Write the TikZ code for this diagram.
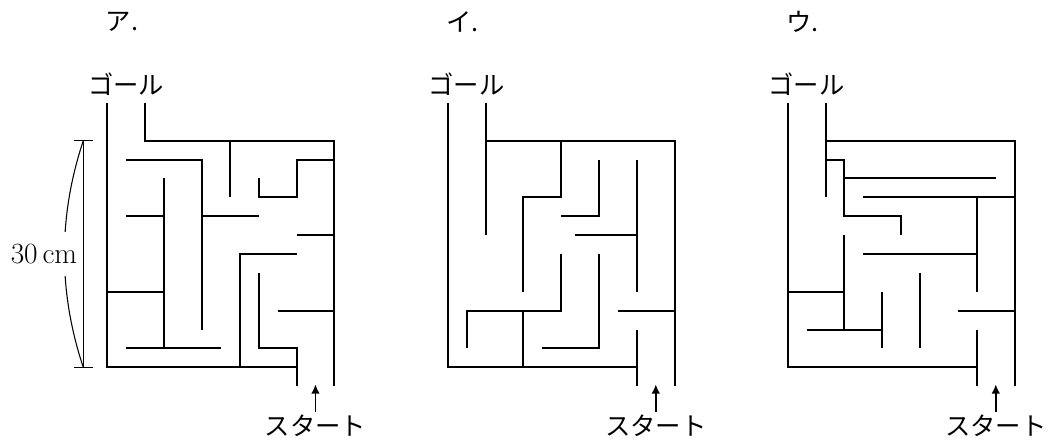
\documentclass[tikz,border=0pt]{standalone}
\usepackage{fontspec}
\newfontfamily\jpfont{Noto Sans CJK JP}
\usetikzlibrary{arrows.meta}

\begin{document}
\begin{tikzpicture}[
    x=0.75pt, y=-0.75pt,
    wall/.style={line width=1.5pt},
    dimline/.style={line width=0.8pt},
    jplabel/.style={font=\jpfont\fontsize{19}{22}\selectfont, inner sep=0pt},
    maze/.style={x=14.19pt, y=-14.17pt},
    startarrow/.style={-{Latex[length=7pt,width=6.5pt]}, line width=1.1pt}
]
\useasboundingbox (0,0) rectangle (1053,441);

% maze A
\begin{scope}[xshift=80.5pt, yshift=-105.5pt, maze]
\node[jplabel, anchor=west] (titleA) at (-0.1,-6.3) {ア.};
\node[jplabel] (goalA) at (1,-3) {ゴール};
\node[jplabel] (startA) at (11,15.1) {スタート};
\coordinate (tipA) at (11,12.9);
\draw[startarrow] ([yshift=2pt]startA.north) -- (tipA);
\draw[wall] (0,-2) -- (0,12) -- (10,12);
\draw[wall] (8,7) -- (8,11) -- (10,11) -- (10,13);
\draw[wall] (2,-2) -- (2,0) -- (12,0) -- (12,13);
\draw[wall] (1,1) -- (5,1) -- (5,10);
\draw[wall] (6.5,0) -- (6.5,3);
\draw[wall] (8,2) -- (8,3) -- (10,3) -- (10,1) -- (12,1);
\draw[wall] (3,2) -- (3,11);
\draw[wall] (1,4) -- (3,4);
\draw[wall] (1,11) -- (6,11);
\draw[wall] (0,8) -- (3,8);
\draw[wall] (5,4) -- (8,4);
\draw[wall] (10,5) -- (12,5);
\draw[wall] (7,12) -- (7,6) -- (10,6);
\draw[wall] (9,9) -- (12,9);
% dimension
\draw[dimline] (-1.27,0) -- (-1.27,12);
\draw[dimline] (-1.75,0) -- (-0.75,0);
\draw[dimline] (-1.75,12) -- (-0.75,12);
\draw[dimline] (-1.27,0) .. controls (-2.6,4) and (-2.6,8) .. (-1.27,12);
\node[fill=white, inner xsep=1pt, inner ysep=9pt, font=\fontsize{22}{26}\selectfont] (lenA) at (-3.35,6) {30\,cm};
\end{scope}

% maze B
\begin{scope}[xshift=335.75pt, yshift=-105.5pt, maze]
\node[jplabel, anchor=west] (titleB) at (-0.1,-6.3) {イ.};
\node[jplabel] (goalB) at (1,-3) {ゴール};
\node[jplabel] (startB) at (11,15.1) {スタート};
\coordinate (tipB) at (11,12.9);
\draw[startarrow] ([yshift=2pt]startB.north) -- (tipB);
\draw[wall] (0,-2) -- (0,12) -- (10,12);
\draw[wall] (10,10) -- (10,13);
\draw[wall] (2,-2) -- (2,5);
\draw[wall] (2,0) -- (12,0) -- (12,13);
\draw[wall] (6,0) -- (6,3) -- (4,3) -- (4,8);
\draw[wall] (8,1) -- (8,4) -- (6,4);
\draw[wall] (10,1) -- (10,8);
\draw[wall] (6.75,5) -- (10,5);
\draw[wall] (9,9) -- (12,9);
\draw[wall] (6,6) -- (6,9) -- (1,9) -- (1,11);
\draw[wall] (4,9) -- (4,12);
\draw[wall] (8,6) -- (8,11) -- (5,11);
\end{scope}

% maze C
\begin{scope}[xshift=590.75pt, yshift=-105.5pt, maze]
\node[jplabel, anchor=west] (titleC) at (-0.1,-6.3) {ウ.};
\node[jplabel] (goalC) at (1,-3) {ゴール};
\node[jplabel] (startC) at (11,15.1) {スタート};
\coordinate (tipC) at (11,12.9);
\draw[startarrow] ([yshift=2pt]startC.north) -- (tipC);
\draw[wall] (0,-2) -- (0,12) -- (10,12);
\draw[wall] (10,10) -- (10,13);
\draw[wall] (2,-2) -- (2,3);
\draw[wall] (2,0) -- (12,0) -- (12,13);
\draw[wall] (2,1) -- (3,1) -- (3,4) -- (6,4) -- (6,5);
\draw[wall] (3,2) -- (11,2);
\draw[wall] (4,3) -- (12,3);
\draw[wall] (10,3) -- (10,8);
\draw[wall] (4,6) -- (10,6);
\draw[wall] (3,5) -- (3,10);
\draw[wall] (0,8) -- (3,8);
\draw[wall] (1,10) -- (5,10);
\draw[wall] (5,8) -- (5,11);
\draw[wall] (7,7) -- (7,11);
\draw[wall] (9,9) -- (12,9);
\end{scope}
\end{tikzpicture}
\end{document}
